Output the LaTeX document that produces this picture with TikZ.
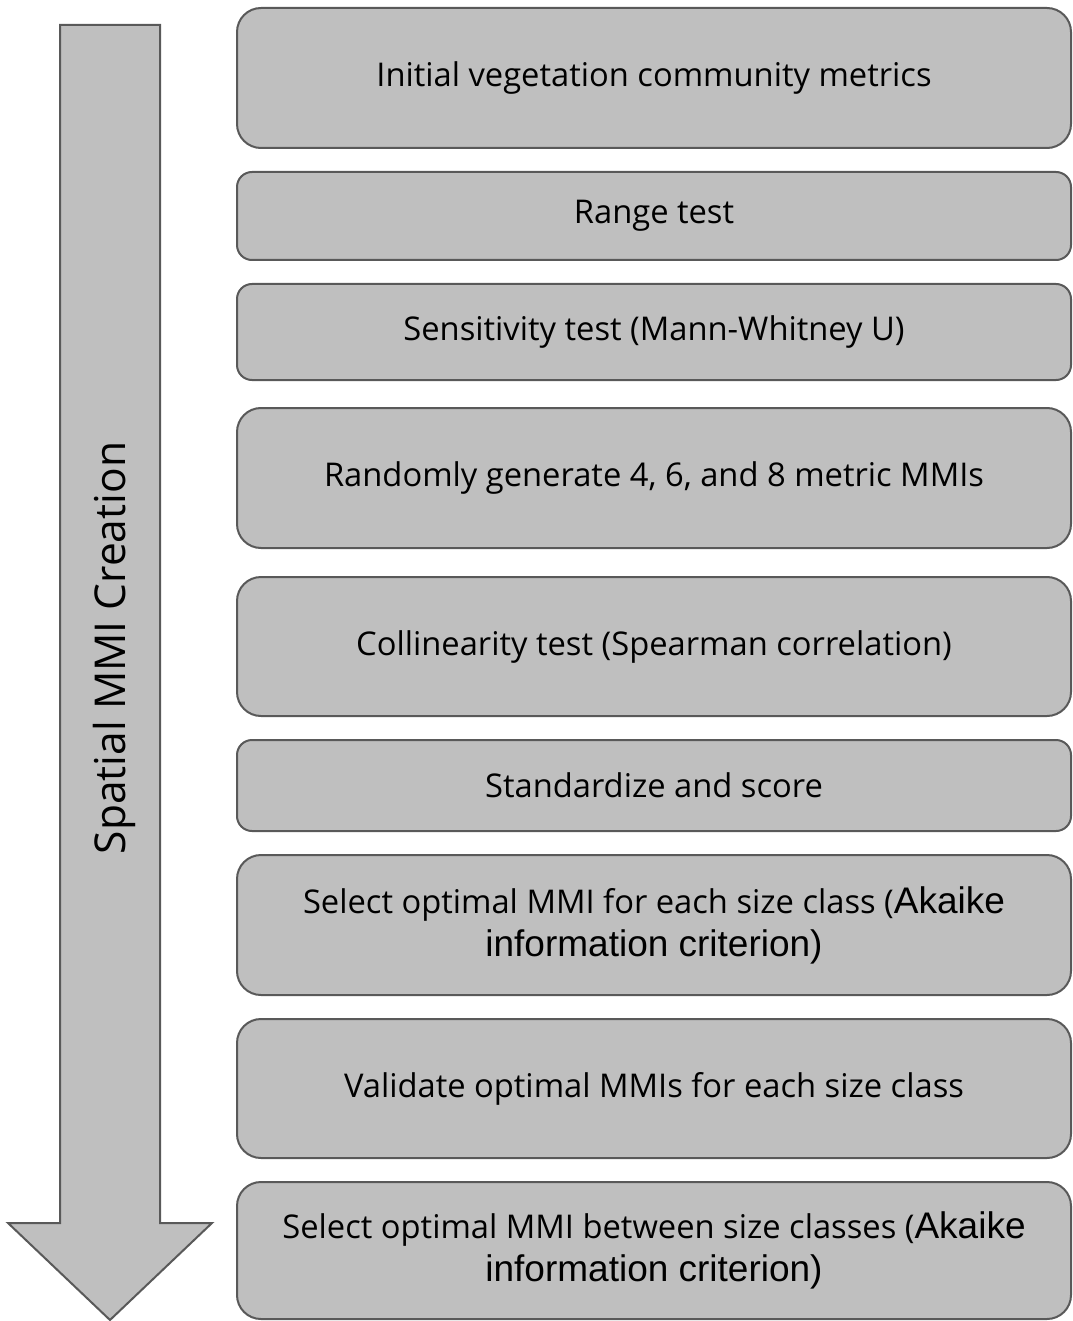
\documentclass[tikz,border=0pt]{standalone}
\usepackage{fontspec}
\setmainfont{Open Sans}
\newfontfamily\arialfont{Liberation Sans}

\definecolor{boxfill}{HTML}{BFBFBF}
\definecolor{boxline}{HTML}{595959}

\newcommand{\akaike}[1]{{\arialfont\fontsize{37}{43}\selectfont #1}}

\tikzset{
  stepbox/.style={draw=boxline, fill=boxfill, line width=2pt, minimum width=834pt, inner sep=0pt, align=center, font=\fontsize{32.7}{43}\selectfont},
  tallbox/.style={stepbox, minimum height=140pt, rounded corners=24pt},
  flatbox/.style={stepbox, rounded corners=15pt},
  arrowbody/.style={draw=boxline, fill=boxfill, line width=2pt, line join=miter}
}

\begin{document}
\begin{tikzpicture}[x=1pt, y=-1pt]
  \useasboundingbox (0,0) rectangle (1072,1321);

  \draw[arrowbody] (60,25) -- (160,25) -- (160,1223) -- (212,1223) -- (110,1320) -- (8,1223) -- (60,1223) -- cycle;
  \node[rotate=90, font=\fontsize{42.5}{50}\selectfont] (phase) at (114,648) {Spatial MMI Creation};

  \node[tallbox] (metrics) at (654,78) {Initial vegetation community metrics};
  \node[flatbox, minimum height=88pt] (range) at (654,216) {Range test};
  \node[flatbox, minimum height=96pt] (sensitivity) at (654,332) {Sensitivity test (Mann-Whitney U)};
  \node[tallbox] (generate) at (654,478) {Randomly generate 4, 6, and 8 metric MMIs};
  \node[tallbox, minimum height=139pt] (collinearity) at (654,646.5) {Collinearity test (Spearman correlation)};
  \node[flatbox, minimum height=91pt] (standardize) at (654,785.5) {Standardize and score};
  \node[tallbox] (selectclass) at (654,925) {Select optimal MMI for each size class (\akaike{Akaike}\\\akaike{information criterion)}};
  \node[tallbox, minimum height=139pt] (validate) at (654,1088.5) {Validate optimal MMIs for each size class};
  \node[tallbox, minimum height=137pt] (selectbetween) at (654,1250.5) {Select optimal MMI between size classes (\akaike{Akaike}\\\akaike{information criterion)}};
\end{tikzpicture}
\end{document}
